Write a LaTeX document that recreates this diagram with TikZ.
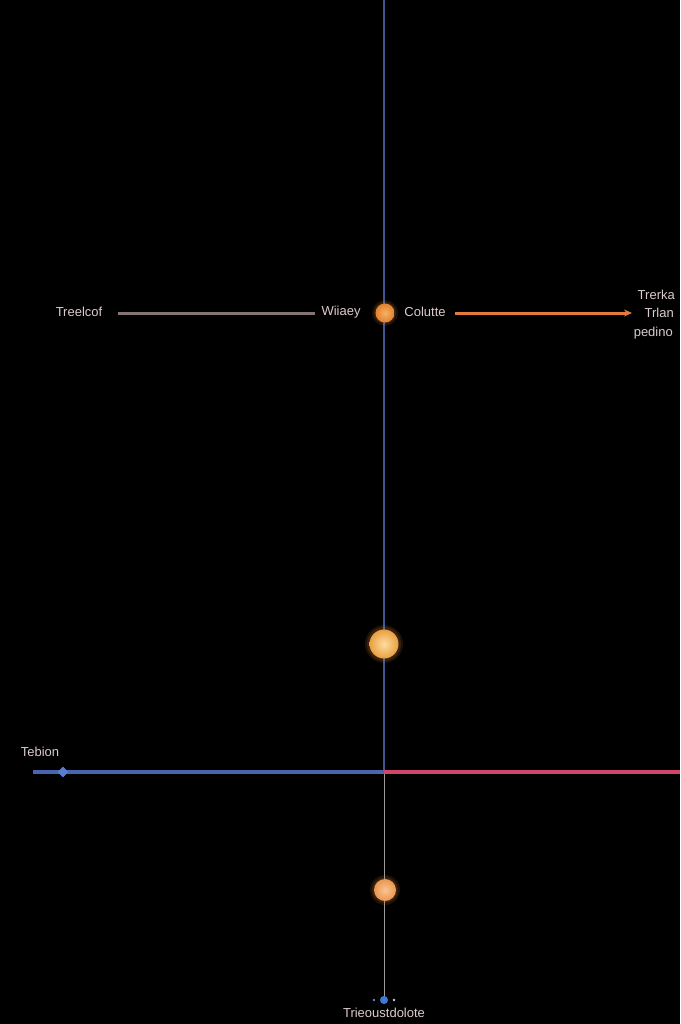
\documentclass[tikz,border=0pt]{standalone}
\usepackage{fontspec}
\setmainfont{Liberation Sans}
\usetikzlibrary{arrows.meta,shapes.geometric}
\definecolor{axisblue}{HTML}{3A5896}
\definecolor{lbl}{HTML}{DCCCCC}
\definecolor{mauve}{HTML}{857474}
\definecolor{orng}{HTML}{E47A3E}
\definecolor{bline}{HTML}{4A64B0}
\definecolor{rline}{HTML}{D2456A}
\definecolor{glowc}{HTML}{E88A3A}
\definecolor{oaIn}{HTML}{F5B266}
\definecolor{oaOut}{HTML}{E4802E}
\definecolor{obIn}{HTML}{FFDCA0}
\definecolor{obOut}{HTML}{E8A040}
\definecolor{ocIn}{HTML}{F9C494}
\definecolor{ocOut}{HTML}{E9974E}
\definecolor{dotblue}{HTML}{3C7CD8}
\definecolor{diamblue}{HTML}{5A7CD0}
\definecolor{sdotA}{HTML}{5A8AD8}
\definecolor{sdotB}{HTML}{C8D0E8}
\tikzset{
  lab/.style={text=lbl, font=\fontsize{13}{15}\selectfont, inner sep=0pt},
  orb/.style 2 args={circle, inner sep=0pt, shading=radial, inner color=#1, outer color=#2},
}
\begin{document}
\begin{tikzpicture}[x=1pt,y=-1pt]
\fill[black] (0,0) rectangle (680,1024);
\useasboundingbox (0,0) rectangle (680,1024);
% vertical axis
\coordinate (top) at (384,0);
\coordinate (mid) at (384,772);
\coordinate (bot) at (384,998);
\draw[axisblue, line width=1.2pt] (top) -- (mid);
\draw[gray!80, line width=1pt] (mid) -- (bot);
% glows
\foreach \p/\r in {{385,313}/9,{384,644}/15,{385,890}/11}{
  \fill[glowc, opacity=0.12] (\p) circle (\r+4);
  \fill[glowc, opacity=0.15] (\p) circle (\r+2);
}
\node[orb={oaIn}{oaOut}, minimum size=19pt] (c1) at (385,313) {};
\node[orb={obIn}{obOut}, minimum size=29pt] (c2) at (384,644) {};
\node[orb={ocIn}{ocOut}, minimum size=22pt] (c3) at (385,890) {};
\node[circle, fill=dotblue, inner sep=0pt, minimum size=8pt] (c4) at (384,1000) {};
% upper row
\node[lab] (t1) at (79,312) {Treelcof};
\node[lab] (t2) at (341,312) {Wiiaey};
\node[lab] (t3) at (425,312) {Colutte};
\node[lab, anchor=east] (t4) at (675,295) {Trerka};
\node[lab, anchor=east] (t5) at (674,313) {Trlan};
\node[lab, anchor=east] (t6) at (673,333) {pedino};
\coordinate (m0) at (118,313);
\coordinate (m1) at (315,313);
\coordinate (o0) at (455,313);
\coordinate (o1) at (632,313);
\draw[mauve, line width=3pt] (m0) -- (m1);
\draw[orng, line width=3pt, -{Stealth[length=8pt,width=7pt]}] (o0) -- (o1);
% lower horizontal
\node[lab] (t7) at (40,752) {Tebion};
\coordinate (l0) at (33,772);
\coordinate (r0) at (680,772);
\draw[bline, line width=3.5pt] (l0) -- (mid);
\draw[rline, line width=3.5pt] (mid) -- (r0);
\node[diamond, fill=diamblue, inner sep=0pt, minimum size=11pt, aspect=1] (d1) at (63,772) {};
% bottom label
\fill[sdotA] (374,1000) circle (1.3);
\fill[sdotB] (394,1000) circle (1.3);
\node[lab] (t8) at (384,1013) {Trieoustdolote};
\end{tikzpicture}
\end{document}
